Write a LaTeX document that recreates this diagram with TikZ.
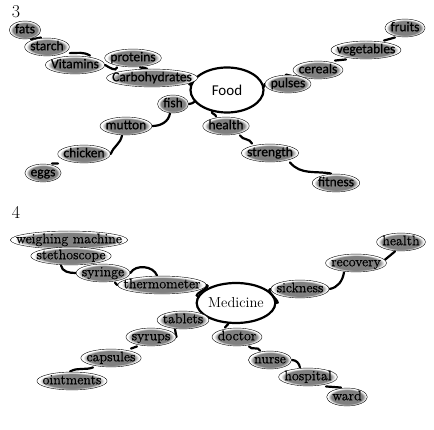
\documentclass[tikz,border=0pt]{standalone}
\usepackage{fontspec}
\usetikzlibrary{shapes.geometric,calc,backgrounds}
\newfontfamily\calib{Carlito}[FakeBold=0.7]
\newfontfamily\hubsans{Carlito}
\newfontfamily\wordrm{Latin Modern Roman}[FakeBold=0.7]

\pgfdeclareradialshading{halo}{\pgfpoint{0bp}{0bp}}{color(0bp)=(black!50); color(19bp)=(black!50); color(23bp)=(white); color(25bp)=(white); color(50bp)=(white)}

\tikzset{
  word/.style={rectangle, inner xsep=6pt, inner ysep=3pt, text height=9.5pt, text depth=3pt,
    path picture={
      \shade[shading=halo, draw=black, line width=.4pt]
        let \p1=(path picture bounding box.north east),
            \p2=(path picture bounding box.center)
        in (\p2) ellipse ({\x1-\x2-.3pt} and {\y1-\y2-.3pt});}},
  wordsans/.style={word, font=\calib\fontsize{13.5}{15}\selectfont},
  wordserif/.style={word, font=\wordrm\fontsize{14}{16}\selectfont},
  hub/.style={ellipse, draw, line width=2.2pt, fill=white, inner sep=0pt},
  link/.style={line width=2.2pt, line cap=round},
  num/.style={font=\fontsize{18}{20}\selectfont, inner sep=0pt}
}

\begin{document}
\begin{tikzpicture}[x=1pt,y=1pt]
	\useasboundingbox (0,0) rectangle (434,-430);

	% numbers
	\node[num] (n3) at (16,-12) {3};
	\node[num] (n4) at (16,-212) {4};

	% food map
	\node[hub, minimum width=73pt, minimum height=45pt, font=\hubsans\fontsize{15}{17}\selectfont] (food) at (227,-90) {Food};
	\node[wordsans] (fats) at (25,-30) {fats};
	\node[wordsans] (starch) at (47,-47) {starch};
	\node[wordsans] (vitamins) at (75,-65) {Vitamins};
	\node[wordsans] (proteins) at (133,-58) {proteins};
	\node[wordsans] (carb) at (152,-78) {Carbohydrates};
	\node[wordsans] (pulses) at (288,-84) {pulses};
	\node[wordsans] (cereals) at (318,-70) {cereals};
	\node[wordsans] (veg) at (366,-50) {vegetables};
	\node[wordsans] (fruits) at (405,-28) {fruits};
	\node[wordsans] (fish) at (173,-104) {fish};
	\node[wordsans] (mutton) at (126,-126) {mutton};
	\node[wordsans] (chicken) at (84,-154) {chicken};
	\node[wordsans] (eggs) at (43,-173) {eggs};
	\node[wordsans] (health) at (226,-126) {health};
	\node[wordsans] (strength) at (270,-153) {strength};
	\node[wordsans] (fitness) at (336,-183) {fitness};

	% medicine map
	\node[hub, minimum width=70pt, minimum height=40pt, font=\fontsize{14.5}{16}\selectfont] (med) at (236,-303) {Medicine};
	\node[wordserif] (weigh) at (69,-240) {weighing machine};
	\node[wordserif] (steth) at (71,-256) {stethoscope};
	\node[wordserif] (syringe) at (103,-273) {syringe};
	\node[wordserif] (thermo) at (162,-285) {thermometer};
	\node[wordserif] (sickness) at (300,-289) {sickness};
	\node[wordserif] (recovery) at (356,-263) {recovery};
	\node[wordserif] (health2) at (401,-242) {health};
	\node[wordserif] (doctor) at (237,-337) {doctor};
	\node[wordserif] (nurse) at (270,-360) {nurse};
	\node[wordserif] (hospital) at (308,-377) {hospital};
	\node[wordserif] (ward) at (347,-397) {ward};
	\node[wordserif] (tablets) at (183,-320) {tablets};
	\node[wordserif] (syrups) at (151,-337) {syrups};
	\node[wordserif] (capsules) at (111,-358) {capsules};
	\node[wordserif] (ointments) at (72,-381) {ointments};

	% links behind the words
	\begin{scope}[on background layer]
	\draw[link] (carb.east) to[out=-10,in=170] (food.172);
	\draw[link] ([xshift=7pt]proteins.south) -- ([xshift=-5pt]carb.north);
	\draw[link] (vitamins.east) to[out=-30,in=-100] ([xshift=-16pt]proteins.south);
	\draw[link] (starch.-15) to[out=0,in=150] ([xshift=15pt]vitamins.north);
	\draw[link] ([xshift=6pt]fats.south) -- ([xshift=-6pt]starch.north);
	\draw[link] (food.200) to[out=210,in=0] (fish.east);
	\draw[link] ([xshift=-3pt]fish.south) to[out=-100,in=0] (mutton.east);
	\draw[link] ([xshift=-4pt]mutton.south) to[out=-100,in=70] (chicken.east);
	\draw[link] (chicken.200) -- ([xshift=9pt]eggs.north);
	\draw[link] (food.235) to[out=-100,in=90] ([xshift=-10pt]health.north);
	\draw[link] ([xshift=14pt]health.south) to[out=-60,in=110] ([xshift=-18pt]strength.north);
	\draw[link] ([xshift=20pt]strength.south) to[out=-50,in=170] ([xshift=-5pt]fitness.north);
	\draw[link] (food.5) -- (pulses.west);
	\draw[link] ([xshift=-2pt]pulses.north) -- ([xshift=-14pt]cereals.south);
	\draw[link] ([xshift=17pt]cereals.north) -- ([xshift=-20pt]veg.south);
	\draw[link] ([xshift=18pt]veg.north) -- ([xshift=-10pt]fruits.south);

	\draw[link] (thermo.east) to[out=-20,in=160] (med.170);
	\draw[link] (syringe.east) to[out=60,in=110] ([xshift=-5pt]thermo.north);
	\draw[link] ([xshift=12pt]syringe.south) to[out=-30,in=180] (thermo.west);
	\draw[link] ([xshift=-10pt]steth.south) to[out=-80,in=180] (syringe.west);
	\draw[link] ([xshift=-20pt]weigh.south) -- ([xshift=-14pt]steth.north);
	\draw[link] (med.205) to[out=210,in=20] ([yshift=2pt]tablets.east);
	\draw[link] ([xshift=-8pt]tablets.south) -- (syrups.east);
	\draw[link] ([xshift=-14pt]syrups.south) -- ([xshift=20pt]capsules.north);
	\draw[link] ([xshift=-18pt]capsules.south) to[out=200,in=30] ([xshift=-2pt]ointments.north);
	\draw[link] (med.east) to[out=0,in=200] (sickness.west);
	\draw[link] (sickness.east) to[out=10,in=-100] ([xshift=-12pt]recovery.south);
	\draw[link] ([xshift=-6pt]recovery.east) -- ([xshift=-6pt]health2.south);
	\draw[link] (med.250) to[out=-100,in=90] ([xshift=-12pt]doctor.north);
	\draw[link] ([xshift=12pt]doctor.south) to[out=-60,in=110] ([xshift=-10pt]nurse.north);
	\draw[link] (nurse.east) to[out=0,in=100] ([xshift=-8pt]hospital.north);
	\draw[link] ([xshift=18pt]hospital.south) -- ([xshift=-6pt]ward.north);
	\end{scope}
\end{tikzpicture}
\end{document}
